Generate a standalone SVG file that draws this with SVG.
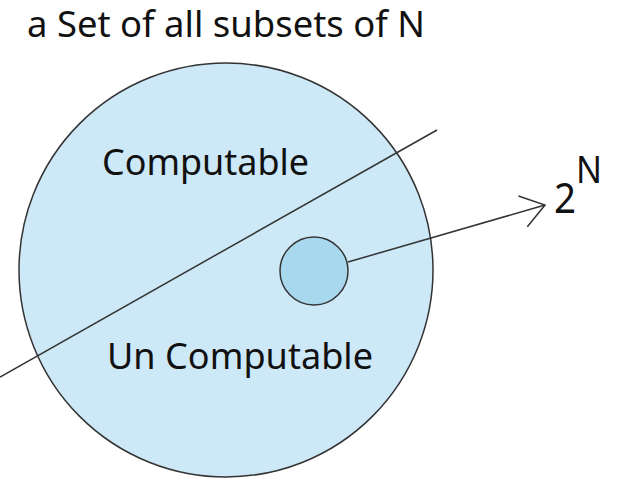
<svg xmlns="http://www.w3.org/2000/svg" width="621" height="494" viewBox="0 0 621 494">
<defs>
<style>
.t{font-family:"Noto Sans","Open Sans","DejaVu Sans",sans-serif;fill:#111}
.ln{stroke:#333;stroke-width:1.5;fill:none}
</style>
<marker id="arr" viewBox="0 0 26 36" refX="25" refY="18" markerWidth="26" markerHeight="36" markerUnits="userSpaceOnUse" orient="auto">
<path d="M2,2 L25,18 L2,34" fill="none" stroke="#333" stroke-width="1.5"/>
</marker>
</defs>
<rect width="621" height="494" fill="#fff"/>
<text class="t" x="27" y="37" font-size="36" textLength="398" lengthAdjust="spacingAndGlyphs">a Set of all subsets of N</text>
<g id="set">
<circle cx="226" cy="270" r="207" fill="#cde8f6" stroke="#333" stroke-width="1.5"/>
<text class="t" x="102" y="175" font-size="37" textLength="207" lengthAdjust="spacingAndGlyphs">Computable</text>
<text class="t" x="107" y="369" font-size="37" textLength="266" lengthAdjust="spacingAndGlyphs">Un Computable</text>
</g>
<g id="sub">
<circle cx="314" cy="271" r="34" fill="#a8d8ee" stroke="#333" stroke-width="1.5"/>
</g>
<g id="pow">
<text class="t" x="554" y="213" font-size="41" textLength="22" lengthAdjust="spacingAndGlyphs">2</text>
<text class="t" x="576" y="183" font-size="39" textLength="26" lengthAdjust="spacingAndGlyphs">N</text>
</g>
<g id="connectors">
<line class="ln" x1="0" y1="377" x2="437" y2="130"/>
<line class="ln" x1="348" y1="262" x2="545" y2="205" marker-end="url(#arr)"/>
</g>
</svg>
